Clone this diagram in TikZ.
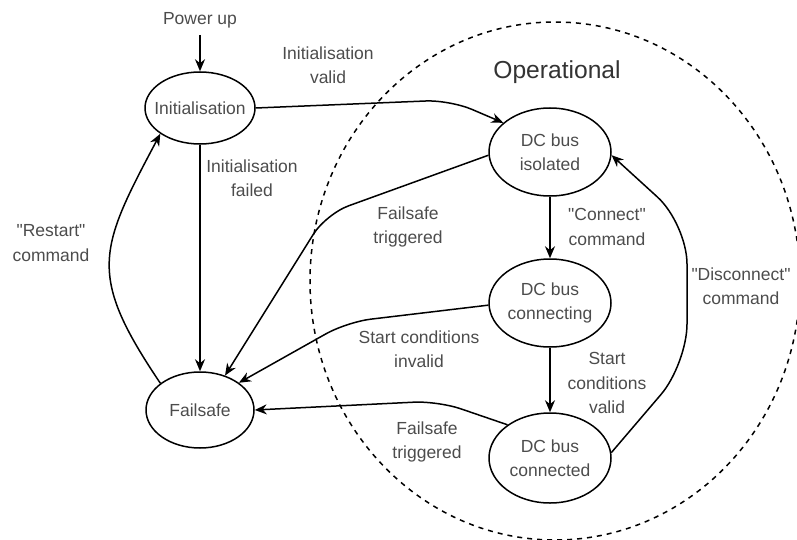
\documentclass[tikz,border=0pt]{standalone}
\usepackage{fontspec}
\setmainfont{Liberation Sans}
\usepackage{tikz}
\usetikzlibrary{shapes.geometric}
\usetikzlibrary{arrows.meta}

\tikzset{
  stnode/.style={ellipse, draw, line width=0.75pt, inner sep=0pt, align=center, text=black!70},
  arr/.style={-{Stealth[length=6pt,width=5pt]}, line width=0.75pt, rounded corners=12pt},
  lbl/.style={align=center, text=black!70}
}

\begin{document}
\begin{tikzpicture}[x=0.5pt, y=-0.5pt, font=\fontsize{8.75}{12.25}\selectfont]
      \useasboundingbox (0,0) rectangle (797,540);

      % operational region
      \draw[dash pattern=on 2.5pt off 2.5pt, line width=0.75pt] (555,281) ellipse [x radius=122.5pt, y radius=129.5pt];
      \node[font=\fontsize{12.3}{14}\selectfont, text=black!80] (op) at (557,72) {Operational};

      % states
      \node[stnode, minimum width=55pt, minimum height=36pt, inner xsep=-3.6pt] (init) at (200,108) {Initialisation};
      \node[stnode, minimum width=54pt, minimum height=38pt] (fail) at (200,410) {Failsafe};
      \node[stnode, minimum width=61pt, minimum height=44pt] (iso) at (550,152) {DC bus\\isolated};
      \node[stnode, minimum width=61pt, minimum height=44pt] (cing) at (550,303) {DC bus\\connecting};
      \node[stnode, minimum width=61pt, minimum height=45pt] (ced) at (550,458) {DC bus\\connected};

      \node[lbl] (pwr) at (200,20) {Power up};

      % write transition labels
      \node[lbl] (lvalid) at (328,65) {Initialisation\\valid};
      \node[lbl] (lfailed) at (252,178) {Initialisation\\failed};
      \node[lbl] (lrestart) at (51,243) {\textquotedbl Restart\textquotedbl\\command};
      \node[lbl] (lfs1) at (408,227) {Failsafe\\triggered};
      \node[lbl] (lconn) at (607,227) {\textquotedbl Connect\textquotedbl\\command};
      \node[lbl] (linv) at (419,349) {Start conditions\\invalid};
      \node[lbl] (lval) at (607,383) {Start\\conditions\\valid};
      \node[lbl] (ldisc) at (741,286) {\textquotedbl Disconnect\textquotedbl\\command};
      \node[lbl] (lfs2) at (427,442) {Failsafe\\triggered};

      % transitions
      \draw[arr] (pwr) -- (init);
      \draw[arr] (init.east) -- (450,100) -- (iso.148);
      \draw[arr] (init) -- (fail);
      \draw[arr] (fail.146) to[out=124, in=242, looseness=1.35] (init.213);
      \draw[arr] (iso.183) -- (326,214) -- (fail.54);
      \draw[arr] (iso) -- (cing);
      \draw[arr] (cing.182) -- (347,322) -- (fail.35);
      \draw[arr] (cing) -- (ced);
      \draw[arr] (ced.142) -- (438,401) -- (fail.east);
      \draw[arr, rounded corners=20pt] (ced.5) -- (687,364) -- (687,224) -- (iso.-3);
    \end{tikzpicture}
\end{document}
